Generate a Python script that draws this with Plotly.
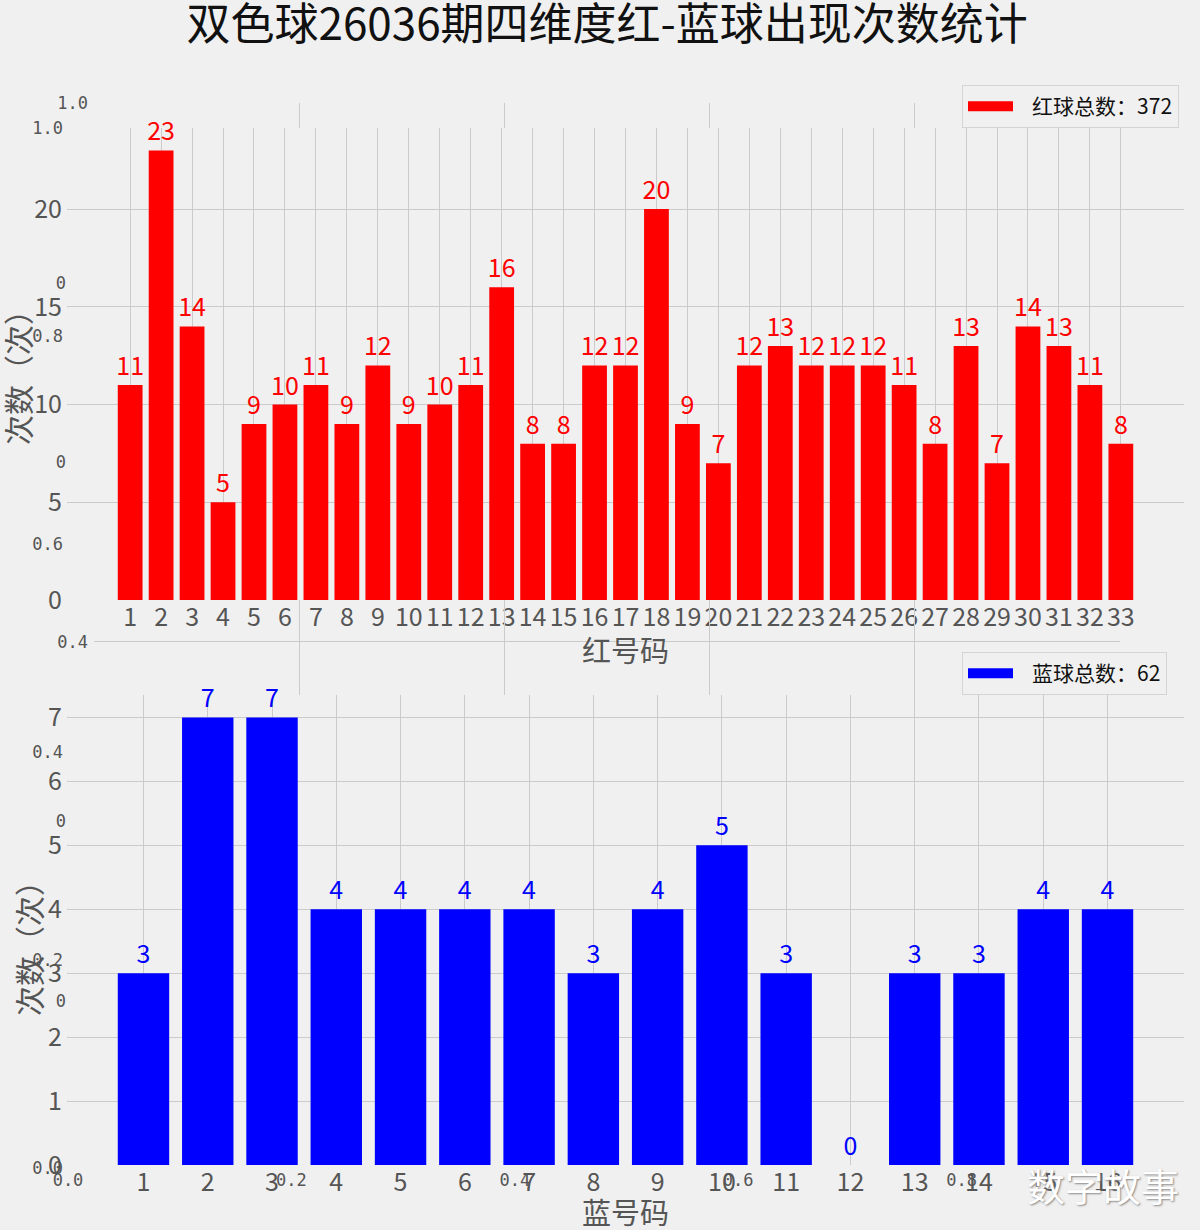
import plotly.graph_objects as go

W, H = 1200, 1230

# ---------------- data ----------------
red_numbers = list(range(1, 34))
red_counts = [11, 23, 14, 5, 9, 10, 11, 9, 12, 9, 10, 11, 16, 8, 8, 12, 12,
              20, 9, 7, 12, 13, 12, 12, 12, 11, 8, 13, 7, 14, 13, 11, 8]
blue_numbers = list(range(1, 17))
blue_counts = [3, 7, 7, 4, 4, 4, 4, 3, 4, 5, 3, 0, 3, 3, 4, 4]

red_yticks = [0, 5, 10, 15, 20]
blue_yticks = [0, 1, 2, 3, 4, 5, 6, 7]

# stray (empty background axes) tick values / labels
ghost_ticks = [0.0, 0.2, 0.4, 0.6, 0.8, 1.0]
ghost_labels = ["0.0", "0.2", "0.4", "0.6", "0.8", "1.0"]
ghost_b_ticks = [0.4, 1.0]
ghost_b_labels = ["0.4", "1.0"]
ghost_c_ticks = [0.0, 0.2, 0.6, 0.8]
ghost_c_labels = ["0", "0", "0", "0"]
ghost_grid_x = [0.2, 0.4, 0.6, 0.8]

title_text = "双色球26036期四维度红-蓝球出现次数统计"
red_xtitle = "红号码"
blue_xtitle = "蓝号码"
ytitle = "次数（次）"
red_legend = f"红球总数：{sum(red_counts)}"
blue_legend = f"蓝球总数：{sum(blue_counts)}"
watermark = "数字故事"

FONT = "Noto Sans CJK SC"
GHOSTFONT = "DejaVu Sans Mono"
BG = "#f0f0f0"
GRID = "#cbcbcb"
TICKC = "#555555"
NB = "\u00a0\u00a0\u00a0"


def px_x(p):
    return p / W


def px_y(p):
    return 1 - p / H


fig = go.Figure()

# main bars
fig.add_trace(go.Bar(x=red_numbers, y=red_counts, width=0.8, marker=dict(color="#ff0000", line=dict(width=0)),
                     text=red_counts, textposition="outside", cliponaxis=False, constraintext="none",
                     textfont=dict(color="#ff0000", size=25, family=FONT), showlegend=False,
                     xaxis="x", yaxis="y"))
fig.add_trace(go.Scatter(x=[None], y=[None], mode="lines", line=dict(color="#ff0000", width=13),
                         name=NB + red_legend, legend="legend", xaxis="x", yaxis="y"))
fig.add_trace(go.Bar(x=blue_numbers, y=blue_counts, width=0.8, marker=dict(color="#0000ff", line=dict(width=0)),
                     text=blue_counts, textposition="outside", cliponaxis=False, constraintext="none",
                     textfont=dict(color="#0000ff", size=25, family=FONT), showlegend=False,
                     xaxis="x2", yaxis="y2"))
fig.add_trace(go.Scatter(x=[None], y=[None], mode="lines", line=dict(color="#0000ff", width=13),
                         name=NB + blue_legend, legend="legend2", xaxis="x2", yaxis="y2"))

# empty traces on ghost axes
for i in range(3, 8):
    fig.add_trace(go.Scatter(x=[None], y=[None], showlegend=False, hoverinfo="skip",
                             xaxis=f"x{i}", yaxis=f"y{i}"))

xdom = [px_x(67), px_x(1184)]
tickfont = dict(family=FONT, size=25, color=TICKC)
ghostfont = dict(family=GHOSTFONT, size=17, color=TICKC)
xtitlefont = dict(family=FONT, size=29, color=TICKC)
ytitlefont = dict(family=FONT, size=30, color=TICKC)

layout = dict(
    width=W, height=H, autosize=False,
    paper_bgcolor=BG, plot_bgcolor="rgba(0,0,0,0)",
    margin=dict(l=0, r=0, t=0, b=0, pad=0, autoexpand=False),
    font=dict(family=FONT, color=TICKC),
    title=dict(text=title_text, x=0.506, xanchor="center", y=1 - 25 / H, yanchor="middle",
               font=dict(family=FONT, size=44, color="#111111")),
    # top main
    xaxis=dict(domain=xdom, anchor="y", range=[-1.04, 35.04], tickmode="array", tickvals=red_numbers,
               ticktext=[str(v) for v in red_numbers], tickangle=0, showgrid=True, gridcolor=GRID,
               gridwidth=1.3, zeroline=False, showline=False, ticks="", tickfont=tickfont),
    yaxis=dict(domain=[px_y(600), px_y(128)], anchor="x", range=[0, 24.15], tickmode="array",
               tickvals=red_yticks, showgrid=True, gridcolor=GRID, gridwidth=1.3, zeroline=False,
               showline=False, ticks="", tickfont=tickfont, ticklabelstandoff=4),
    # bottom main
    xaxis2=dict(domain=xdom, anchor="y2", range=[-0.19, 17.19], tickmode="array", tickvals=blue_numbers,
                ticktext=[str(v) for v in blue_numbers], tickangle=0, showgrid=True, gridcolor=GRID,
                gridwidth=1.3, zeroline=False, showline=False, ticks="", tickfont=tickfont),
    yaxis2=dict(domain=[px_y(1165), px_y(695)], anchor="x2", range=[0, 7.35], tickmode="array",
                tickvals=blue_yticks, showgrid=True, gridcolor=GRID, gridwidth=1.3, zeroline=False,
                showline=False, ticks="", tickfont=tickfont, ticklabelstandoff=4),
    # ghost A (labels only)
    xaxis3=dict(domain=[px_x(68), px_x(1185)], anchor="y3", range=[0, 1], tickmode="array",
                tickvals=ghost_ticks, ticktext=ghost_labels, showgrid=False, zeroline=False,
                showline=False, ticks="", tickfont=ghostfont, tickangle=0),
    yaxis3=dict(domain=[px_y(1168), px_y(128)], anchor="x3", range=[0, 1], tickmode="array",
                tickvals=ghost_ticks, ticktext=ghost_labels, showgrid=False, zeroline=False,
                showline=False, ticks="", tickfont=ghostfont, ticklabelstandoff=4),
    # ghost B top strip (grid only)
    xaxis4=dict(domain=[px_x(94), px_x(1120)], anchor="y4", range=[0, 1], tickmode="array",
                tickvals=ghost_grid_x, showgrid=True, gridcolor=GRID, gridwidth=1.3,
                showticklabels=False, zeroline=False, showline=False, ticks=""),
    yaxis4=dict(domain=[px_y(128), px_y(103)], anchor="x4", range=[(1001 - 128) / 898, 1.0],
                showgrid=False, showticklabels=False, zeroline=False, showline=False, ticks=""),
    # ghost B gap strip (grid only)
    xaxis5=dict(domain=[px_x(94), px_x(1120)], anchor="y5", range=[0, 1], tickmode="array",
                tickvals=ghost_grid_x, showgrid=True, gridcolor=GRID, gridwidth=1.3,
                showticklabels=False, zeroline=False, showline=False, ticks=""),
    yaxis5=dict(domain=[px_y(695), px_y(600)], anchor="x5", range=[(1001 - 695) / 898, (1001 - 600) / 898],
                tickmode="array", tickvals=[0.4], showgrid=True, gridcolor=GRID, gridwidth=1.3,
                showticklabels=False, zeroline=False, showline=False, ticks=""),
    # ghost B labels
    xaxis6=dict(domain=[px_x(94), px_x(1120)], anchor="y6", range=[0, 1], visible=False),
    yaxis6=dict(domain=[px_y(1001), px_y(103)], anchor="x6", range=[0, 1], tickmode="array",
                tickvals=ghost_b_ticks, ticktext=ghost_b_labels, showgrid=False, zeroline=False,
                showline=False, ticks="", tickfont=ghostfont, ticklabelstandoff=5),
    # ghost B clipped fragments
    xaxis7=dict(domain=[px_x(72), px_x(1120)], anchor="y7", range=[0, 1], visible=False),
    yaxis7=dict(domain=[px_y(1001), px_y(103)], anchor="x7", range=[0, 1], tickmode="array",
                tickvals=ghost_c_ticks, ticktext=ghost_c_labels, showgrid=False, zeroline=False,
                showline=False, ticks="", tickfont=ghostfont, ticklabelstandoff=5),
    legend=dict(x=px_x(962), y=px_y(85), xanchor="left", yanchor="top", bgcolor=BG, itemwidth=45,
                bordercolor="#d4d4d4", borderwidth=1, font=dict(family=FONT, size=21, color="#111111")),
    legend2=dict(x=px_x(962), y=px_y(652), xanchor="left", yanchor="top", bgcolor=BG, itemwidth=45,
                 bordercolor="#d4d4d4", borderwidth=1, font=dict(family=FONT, size=21, color="#111111")),
    annotations=[
        dict(text=red_xtitle, xref="paper", yref="paper", x=px_x(625), y=px_y(649),
             xanchor="center", yanchor="middle", showarrow=False, font=xtitlefont),
        dict(text=blue_xtitle, xref="paper", yref="paper", x=px_x(626), y=px_y(1211),
             xanchor="center", yanchor="middle", showarrow=False, font=xtitlefont),
        dict(text=ytitle, xref="paper", yref="paper", x=px_x(17), y=px_y(370), textangle=-90,
             xanchor="center", yanchor="middle", showarrow=False, font=ytitlefont),
        dict(text=ytitle, xref="paper", yref="paper", x=px_x(28), y=px_y(941), textangle=-90,
             xanchor="center", yanchor="middle", showarrow=False, font=ytitlefont),
        dict(text=watermark, xref="paper", yref="paper", x=px_x(1103), y=px_y(1184),
             xanchor="center", yanchor="middle", showarrow=False,
             font=dict(family=FONT, size=38, color="#ffffff", shadow="1px 1px 2px #888888")),
    ],
)

fig.update_layout(**layout)
fig.write_html("out.html", config={"displayModeBar": False},
               post_script="document.body.style.margin='0';document.body.style.overflow='hidden';")
